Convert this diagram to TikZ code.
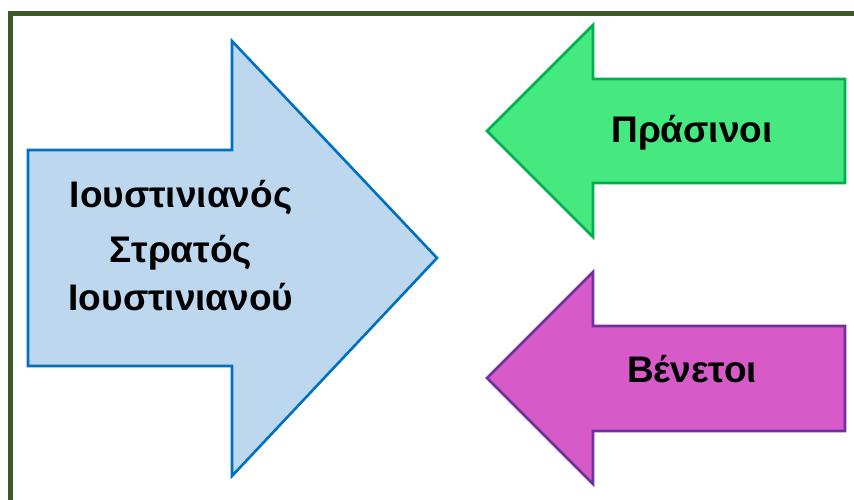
\documentclass[tikz,border=0pt]{standalone}
\usepackage{fontspec}
\setmainfont{Liberation Sans}
\usepackage{xcolor}
\usepackage{tikz}
\definecolor{framegreen}{HTML}{3B5A27}
\definecolor{empfill}{HTML}{BDD7EE}
\definecolor{empline}{HTML}{0070C0}
\definecolor{prasfill}{HTML}{45E97F}
\definecolor{prasline}{HTML}{00B050}
\definecolor{venfill}{HTML}{D65BC8}
\definecolor{venline}{HTML}{7030A0}
\tikzset{
  lbl/.style={font=\fontsize{37}{44}\selectfont\bfseries, inner sep=0pt, anchor=base},
  arrowshape/.style={line width=2.6pt, line join=miter}
}

\begin{document}
\begin{tikzpicture}[x=1pt,y=-1pt]
\useasboundingbox (0,0) rectangle (854,499);
\clip (0,0) rectangle (854,499);
% frame
\draw[framegreen, line width=5pt] (10.5,505) -- (10.5,13) -- (860,13);
% big arrow
\draw[arrowshape, draw=empline, fill=empfill] (28,150) -- (232,150) -- (232,41) -- (437,258)
  -- (232,476) -- (232,366) -- (28,366) -- cycle;
% left arrows
\draw[arrowshape, draw=prasline, fill=prasfill] (845,79) -- (593,79) -- (593,25) -- (487,131)
  -- (593,237) -- (593,183) -- (845,183) -- cycle;
\draw[arrowshape, draw=venline, fill=venfill] (845,326) -- (593,326) -- (593,272) -- (487,378)
  -- (593,484) -- (593,431) -- (845,431) -- cycle;
% labels
\node[lbl] (emp) at (181,207) {Ιουστινιανός};
\node[lbl] (army) at (181,262) {Στρατός};
\node[lbl] (armyb) at (181,310) {Ιουστινιανού};
\node[lbl] (pras) at (692,142) {Πράσινοι};
\node[lbl] (ven) at (692,382) {Βένετοι};
\end{tikzpicture}
\end{document}
